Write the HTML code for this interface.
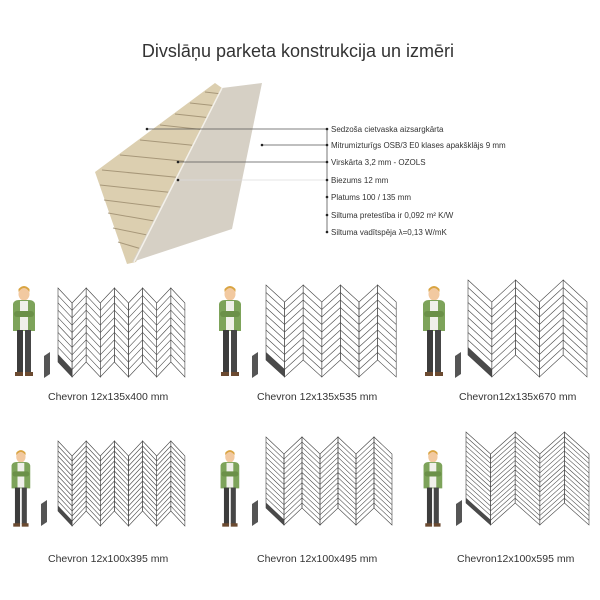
<!DOCTYPE html>
<html><head><meta charset="utf-8"><style>
html,body{margin:0;padding:0;background:#fff;width:600px;height:600px;overflow:hidden}
svg{display:block}
text{font-family:"Liberation Sans",sans-serif;fill:#333}
</style></head><body>
<svg id="s" width="600" height="600" viewBox="0 0 600 600" xmlns="http://www.w3.org/2000/svg">
<rect width="600" height="600" fill="#fff"/>
<text x="298" y="57" font-size="18" text-anchor="middle" fill="#222">Divslāņu parketa konstrukcija un izmēri</text>
<polygon points="215,83 95,172 127,264 136,262 222,88" fill="#dccfb0"/>
<g stroke="#9a8a6c" stroke-width="1" opacity="0.8">
<line x1="205" y1="92" x2="222" y2="94"/><line x1="190" y1="103" x2="218" y2="106"/>
<line x1="175" y1="114" x2="212" y2="118"/><line x1="160" y1="125" x2="206" y2="130"/>
<line x1="140" y1="140" x2="200" y2="146"/><line x1="120" y1="155" x2="192" y2="162"/>
<line x1="102" y1="170" x2="184" y2="178"/><line x1="100" y1="185" x2="176" y2="193"/>
<line x1="104" y1="200" x2="168" y2="208"/><line x1="108" y1="213" x2="160" y2="222"/>
<line x1="113" y1="228" x2="152" y2="236"/><line x1="118" y1="242" x2="145" y2="250"/>
</g>
<polygon points="222,88 262,83 232,229 132,262" fill="#d6d0c5"/>
<line x1="222" y1="88" x2="134" y2="262" stroke="#f4f1ea" stroke-width="1.5"/>
<g stroke="#555" stroke-width="0.8">
<line x1="327" y1="128" x2="327" y2="233"/>
<line x1="147" y1="129" x2="327" y2="129"/>
<line x1="262" y1="145" x2="327" y2="145"/>
<line x1="178" y1="162" x2="327" y2="162"/>
<line x1="178" y1="180" x2="327" y2="180" stroke="#ddd"/>
</g>
<g fill="#222">
<circle cx="147" cy="129" r="1.3"/><circle cx="262" cy="145" r="1.3"/><circle cx="178" cy="162" r="1.3"/><circle cx="178" cy="180" r="1.3"/>
<circle cx="327" cy="129" r="1.3"/><circle cx="327" cy="145" r="1.3"/><circle cx="327" cy="162" r="1.3"/><circle cx="327" cy="180" r="1.3"/><circle cx="327" cy="197" r="1.3"/><circle cx="327" cy="215" r="1.3"/><circle cx="327" cy="232" r="1.3"/>
</g>
<g font-size="8">
<text x="331" y="132">Sedzoša cietvaska aizsargkārta</text>
<text x="331" y="148">Mitrumizturīgs OSB/3 E0 klases apakšklājs 9 mm</text>
<text x="331" y="165">Virskārta 3,2 mm - OZOLS</text>
<text x="331" y="183">Biezums 12 mm</text>
<text x="331" y="200">Platums 100 / 135  mm</text>
<text x="331" y="218">Siltuma pretestība ir 0,092 m² K/W</text>
<text x="331" y="235">Siltuma vadītspēja λ=0,13 W/mK</text>
</g>
<g font-size="10.5">
<text x="48" y="400">Chevron 12x135x400 mm</text>
<text x="257" y="400">Chevron 12x135x535 mm</text>
<text x="459" y="400">Chevron12x135x670 mm</text>
<text x="48" y="562">Chevron 12x100x395 mm</text>
<text x="257" y="562">Chevron 12x100x495 mm</text>
<text x="457" y="562">Chevron12x100x595 mm</text>
</g>
<g id="dyn"></g>
</svg>
<script>
var g=document.getElementById('dyn'),h='';
function chev(x0,n,w,yt,d,H,sl){
 for(var i=0;i<n;i++){
  var xl=x0+i*w,xr=xl+w,tl=i%2?yt+d:yt,tr=i%2?yt:yt+d;
  if(i==0){var o=H*(sl-1)/sl;h+='<polygon points="'+xl+','+(tl+o)+' '+xr+','+(tr+o)+' '+xr+','+(tr+H)+' '+xl+','+(tl+H)+'" fill="#4a4a4a"/>';}
  h+='<polygon points="'+xl+','+tl+' '+xr+','+tr+' '+xr+','+(tr+H)+' '+xl+','+(tl+H)+'" fill="none" stroke="#444" stroke-width="0.6"/>';
  for(var k=1;k<sl;k++){var o=k*H/sl;h+='<line x1="'+xl+'" y1="'+(tl+o)+'" x2="'+xr+'" y2="'+(tr+o)+'" stroke="#444" stroke-width="0.55"/>';}
 }
}
function person(x,y,s){
 h+='<g transform="translate('+x+','+y+') scale('+s+')">'+
 '<ellipse cx="14" cy="7" rx="5.5" ry="6.5" fill="#f2c9a0"/>'+
 '<path d="M8.5,5 Q14,-3 19.5,5 L19.5,2 Q14,-4 8.5,2Z" fill="#d9a441"/>'+
 '<path d="M3,17 Q4,13 9,13 L19,13 Q24,13 25,17 L25,44 L3,44Z" fill="#7da35a"/>'+
 '<rect x="10" y="14" width="8" height="29" fill="#f0f0ea"/>'+
 '<rect x="4" y="24" width="20" height="6" rx="3" fill="#6b9048"/>'+
 '<rect x="7" y="43" width="6" height="43" fill="#3c3c3c"/><rect x="15" y="43" width="6" height="43" fill="#464646"/>'+
 '<rect x="5" y="85" width="8" height="4" fill="#6b4a30"/><rect x="15" y="85" width="8" height="4" fill="#6b4a30"/></g>';
}
chev(58,9,14.1,288,15,74,10);
chev(266,7,18.6,285,17,75,10);
chev(468,5,23.8,280,22,75,10);
chev(58,9,14.1,441,15,70,14);
chev(266,7,18,437,17,71,14);
chev(466,5,24.6,432,22,71,15);
person(10,287,1); person(216,287,1); person(420,287,1);
person(9,451,0.85); person(218,451,0.85); person(421,451,0.85);
[[44,352],[252,352],[455,352],[41,500],[252,500],[456,500]].forEach(function(p){
 h+='<polygon points="'+p[0]+','+(p[1]+4)+' '+(p[0]+6)+','+p[1]+' '+(p[0]+6)+','+(p[1]+22)+' '+p[0]+','+(p[1]+26)+'" fill="#555"/>';});
g.innerHTML=h;
</script>
</body></html>
